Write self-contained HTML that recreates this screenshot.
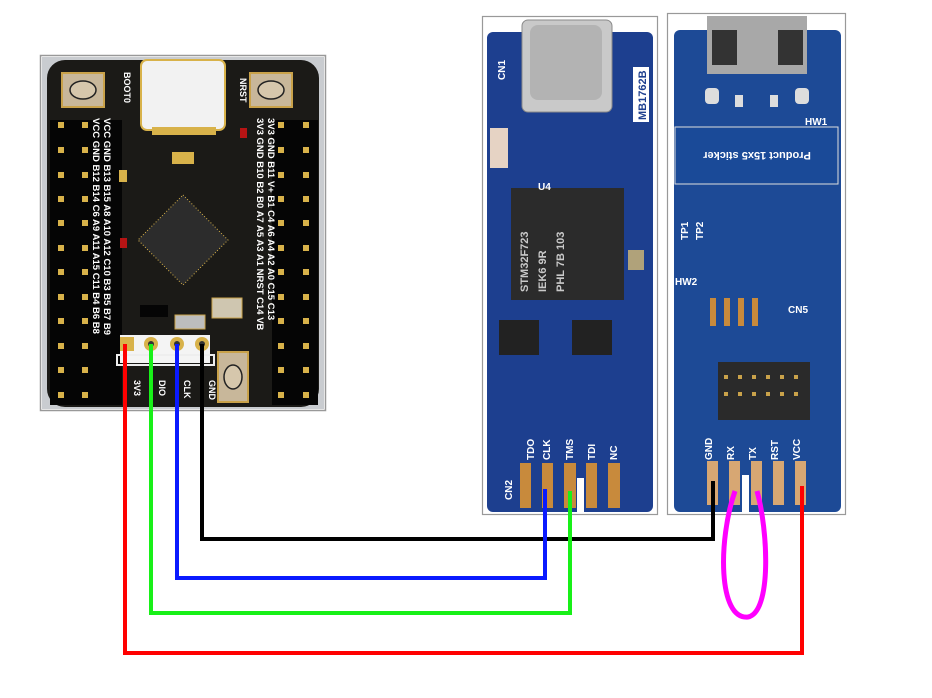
<!DOCTYPE html>
<html><head><meta charset="utf-8"><style>
html,body{margin:0;padding:0;background:#fff;}
svg{display:block}
text{font-family:"Liberation Sans",sans-serif;font-weight:bold}
</style></head><body>
<svg width="932" height="698" viewBox="0 0 932 698" xmlns="http://www.w3.org/2000/svg">
<!-- LEFT BOARD -->
<rect x="40.5" y="55.5" width="285" height="355" fill="#fff" stroke="#999" stroke-width="1.5"/>
<rect x="42" y="57" width="282" height="352" fill="#c9ccd0"/>
<rect x="47" y="60" width="272" height="347" rx="18" fill="#1b1a17"/>
<rect x="50" y="120" width="72" height="285" fill="#050505"/>
<rect x="272" y="120" width="46" height="285" fill="#050505"/>
<g fill="#d8b24a">
<rect x="58" y="122" width="6" height="6"/><rect x="82" y="122" width="6" height="6"/><rect x="278" y="122" width="6" height="6"/><rect x="303" y="122" width="6" height="6"/>
<rect x="58" y="147" width="6" height="6"/><rect x="82" y="147" width="6" height="6"/><rect x="278" y="147" width="6" height="6"/><rect x="303" y="147" width="6" height="6"/>
<rect x="58" y="172" width="6" height="6"/><rect x="82" y="172" width="6" height="6"/><rect x="278" y="172" width="6" height="6"/><rect x="303" y="172" width="6" height="6"/>
<rect x="58" y="196" width="6" height="6"/><rect x="82" y="196" width="6" height="6"/><rect x="278" y="196" width="6" height="6"/><rect x="303" y="196" width="6" height="6"/>
<rect x="58" y="220" width="6" height="6"/><rect x="82" y="220" width="6" height="6"/><rect x="278" y="220" width="6" height="6"/><rect x="303" y="220" width="6" height="6"/>
<rect x="58" y="245" width="6" height="6"/><rect x="82" y="245" width="6" height="6"/><rect x="278" y="245" width="6" height="6"/><rect x="303" y="245" width="6" height="6"/>
<rect x="58" y="269" width="6" height="6"/><rect x="82" y="269" width="6" height="6"/><rect x="278" y="269" width="6" height="6"/><rect x="303" y="269" width="6" height="6"/>
<rect x="58" y="294" width="6" height="6"/><rect x="82" y="294" width="6" height="6"/><rect x="278" y="294" width="6" height="6"/><rect x="303" y="294" width="6" height="6"/>
<rect x="58" y="318" width="6" height="6"/><rect x="82" y="318" width="6" height="6"/><rect x="278" y="318" width="6" height="6"/><rect x="303" y="318" width="6" height="6"/>
<rect x="58" y="343" width="6" height="6"/><rect x="82" y="343" width="6" height="6"/><rect x="278" y="343" width="6" height="6"/><rect x="303" y="343" width="6" height="6"/>
<rect x="58" y="367" width="6" height="6"/><rect x="82" y="367" width="6" height="6"/><rect x="278" y="367" width="6" height="6"/><rect x="303" y="367" width="6" height="6"/>
<rect x="58" y="392" width="6" height="6"/><rect x="82" y="392" width="6" height="6"/><rect x="278" y="392" width="6" height="6"/><rect x="303" y="392" width="6" height="6"/>
</g>
<!-- buttons -->
<rect x="62" y="73" width="42" height="34" fill="#c8b79a" stroke="#c9a24a" stroke-width="2"/>
<ellipse cx="83" cy="90" rx="13" ry="9" fill="#d6c7ac" stroke="#222" stroke-width="1.5"/>
<rect x="250" y="73" width="42" height="34" fill="#c8b79a" stroke="#c9a24a" stroke-width="2"/>
<ellipse cx="271" cy="90" rx="13" ry="9" fill="#d6c7ac" stroke="#222" stroke-width="1.5"/>
<rect x="218" y="352" width="30" height="50" fill="#c8b79a" stroke="#c9a24a" stroke-width="2"/>
<ellipse cx="233" cy="377" rx="9" ry="12" fill="#d6c7ac" stroke="#222" stroke-width="1.5"/>
<!-- usb c -->
<rect x="141" y="60" width="84" height="70" rx="6" fill="#f2f2f2" stroke="#d8b24a" stroke-width="2"/>
<rect x="152" y="127" width="64" height="8" fill="#d8b24a"/>
<!-- chip -->
<polygon points="183,195 228,240 183,285 138,240" fill="#2c2c2c" stroke="#d8b24a" stroke-width="1" stroke-dasharray="1,2"/>
<rect x="212" y="298" width="30" height="20" fill="#cfc6b0" stroke="#c9a24a"/>
<rect x="175" y="315" width="30" height="14" fill="#bdbdbd" stroke="#c9a24a"/>
<rect x="140" y="305" width="28" height="12" fill="#050505"/>
<rect x="119" y="170" width="8" height="12" fill="#d8b24a"/>
<rect x="120" y="238" width="7" height="10" fill="#b61414"/>
<rect x="240" y="128" width="7" height="10" fill="#b61414"/>
<rect x="172" y="152" width="22" height="12" fill="#d8b24a"/>
<!-- header -->
<rect x="120" y="335" width="90" height="28" fill="#f4f4f4"/>
<rect x="120" y="337" width="14" height="14" fill="#d8b24a"/>
<circle cx="151" cy="344" r="7" fill="#d8b24a"/><circle cx="151" cy="344" r="3" fill="#333"/>
<circle cx="177" cy="344" r="7" fill="#d8b24a"/><circle cx="177" cy="344" r="3" fill="#333"/>
<circle cx="202" cy="344" r="7" fill="#d8b24a"/><circle cx="202" cy="344" r="3" fill="#333"/>
<rect x="117" y="355" width="97" height="10" fill="none" stroke="#eee" stroke-width="2"/>
<g fill="#fff" font-size="9">
<text transform="translate(134,380) rotate(90)">3V3</text>
<text transform="translate(159,380) rotate(90)">DIO</text>
<text transform="translate(184,380) rotate(90)">CLK</text>
<text transform="translate(209,380) rotate(90)">GND</text>
<text transform="translate(124,72) rotate(90)">BOOT0</text>
<text transform="translate(240,78) rotate(90)">NRST</text>
<text transform="translate(104,118) rotate(90)" font-size="9.5">VCC GND B13 B15 A8 A10 A12 C10 B3 B5 B7 B9</text>
<text transform="translate(93,118) rotate(90)" font-size="9.5">VCC GND B12 B14 C6 A9 A11 A15 C11 B4 B6 B8</text>
<text transform="translate(268,118) rotate(90)" font-size="9.5">3V3 GND B11 V+ B1 C4 A6 A4 A2 A0 C15 C13</text>
<text transform="translate(257,118) rotate(90)" font-size="9.5">3V3 GND B10 B2 B0 A7 A5 A3 A1 NRST C14 VB</text>
</g>
<!-- MIDDLE BOARD -->
<rect x="482.5" y="16.5" width="175" height="498" fill="#fff" stroke="#999" stroke-width="1.2"/>
<rect x="487" y="32" width="166" height="480" rx="6" fill="#1d3f8f"/>
<rect x="522" y="20" width="90" height="92" rx="6" fill="#c9c9c9" stroke="#8a8a8a"/>
<rect x="530" y="25" width="72" height="75" rx="8" fill="#b3b3b3"/>
<rect x="490" y="128" width="18" height="40" fill="#e6d3c4"/>
<rect x="511" y="188" width="113" height="112" fill="#2b2b2b"/>
<g fill="#c9c9c9" font-size="11" font-family="Liberation Mono"><text transform="translate(528,292) rotate(-90)">STM32F723</text><text transform="translate(546,292) rotate(-90)">IEK6 9R</text><text transform="translate(564,292) rotate(-90)">PHL 7B 103</text></g>
<rect x="499" y="320" width="40" height="35" fill="#222"/>
<rect x="572" y="320" width="40" height="35" fill="#222"/>
<rect x="628" y="250" width="16" height="20" fill="#b0a27a"/>
<rect x="633" y="67" width="16" height="55" fill="#fff"/><text transform="translate(646,120) rotate(-90)" font-size="11" fill="#1d3f8f">MB1762B</text>
<g fill="#fff" font-size="10">
<text x="538" y="190">U4</text>
<text transform="translate(534,460) rotate(-90)">TDO</text>
<text transform="translate(550,460) rotate(-90)">CLK</text>
<text transform="translate(573,460) rotate(-90)">TMS</text>
<text transform="translate(595,460) rotate(-90)">TDI</text>
<text transform="translate(617,460) rotate(-90)">NC</text>
<text transform="translate(512,500) rotate(-90)">CN2</text>
<text transform="translate(505,80) rotate(-90)">CN1</text>
</g>
<g fill="#c88a3c">
<rect x="520" y="463" width="11" height="45"/><rect x="542" y="463" width="11" height="45"/><rect x="564" y="463" width="12" height="45"/><rect x="586" y="463" width="11" height="45"/><rect x="608" y="463" width="12" height="45"/>
</g>
<rect x="577" y="478" width="7" height="35" fill="#fff"/>
<!-- RIGHT BOARD -->
<rect x="667.5" y="13.5" width="178" height="501" fill="#fff" stroke="#999" stroke-width="1.2"/>
<rect x="674" y="30" width="167" height="482" rx="6" fill="#1d4a96"/>
<rect x="707" y="16" width="100" height="58" fill="#a8a8a8"/>
<rect x="712" y="30" width="25" height="35" fill="#333"/><rect x="778" y="30" width="25" height="35" fill="#333"/>
<rect x="675" y="127" width="163" height="57" fill="#1a4a98" stroke="#ddd" stroke-width="1"/>
<text x="757" y="160" text-anchor="middle" transform="rotate(180 757 156)" fill="#fff" font-size="11" font-weight="normal">Product 15x5 sticker</text>
<rect x="710" y="298" width="6" height="28" fill="#c88a3c"/><rect x="724" y="298" width="6" height="28" fill="#c88a3c"/><rect x="738" y="298" width="6" height="28" fill="#c88a3c"/><rect x="752" y="298" width="6" height="28" fill="#c88a3c"/>
<rect x="718" y="362" width="92" height="58" fill="#2a2a2a"/>
<g fill="#c9a24a"><rect x="724" y="375" width="4" height="4"/><rect x="738" y="375" width="4" height="4"/><rect x="752" y="375" width="4" height="4"/><rect x="766" y="375" width="4" height="4"/><rect x="780" y="375" width="4" height="4"/><rect x="794" y="375" width="4" height="4"/>
<rect x="724" y="392" width="4" height="4"/><rect x="738" y="392" width="4" height="4"/><rect x="752" y="392" width="4" height="4"/><rect x="766" y="392" width="4" height="4"/><rect x="780" y="392" width="4" height="4"/><rect x="794" y="392" width="4" height="4"/></g>
<g fill="#ddd"><rect x="705" y="88" width="14" height="16" rx="4"/><rect x="795" y="88" width="14" height="16" rx="4"/><rect x="735" y="95" width="8" height="12"/><rect x="770" y="95" width="8" height="12"/></g>
<g fill="#fff" font-size="10">
<text x="805" y="125">HW1</text><text x="675" y="285">HW2</text><text x="788" y="313">CN5</text>
<text transform="translate(712,460) rotate(-90)">GND</text>
<text transform="translate(734,460) rotate(-90)">RX</text>
<text transform="translate(756,460) rotate(-90)">TX</text>
<text transform="translate(778,460) rotate(-90)">RST</text>
<text transform="translate(800,460) rotate(-90)">VCC</text>
<text transform="translate(688,240) rotate(-90)">TP1</text><text transform="translate(703,240) rotate(-90)">TP2</text>
</g>
<g fill="#d7a773">
<rect x="707" y="461" width="11" height="44"/><rect x="729" y="461" width="11" height="44"/><rect x="751" y="461" width="11" height="44"/><rect x="773" y="461" width="11" height="44"/><rect x="795" y="461" width="11" height="44"/>
</g>
<rect x="742" y="475" width="7" height="38" fill="#fff"/>
<!-- WIRES -->
<g fill="none" stroke-width="4" stroke-linejoin="miter">
<polyline points="202,344 202,539 713,539 713,481" stroke="#000"/>
<polyline points="177,344 177,578 545,578 545,489" stroke="#0a1aff"/>
<polyline points="151,344 151,613 570,613 570,491" stroke="#18f018"/>
<polyline points="125,344 125,653 802,653 802,486" stroke="#ff0000"/>
<path d="M735,491 C718,540 718,620 748,617 C772,612 768,530 757,491" stroke="#ff00ff" stroke-width="5"/>
</g>
</svg>
</body></html>
